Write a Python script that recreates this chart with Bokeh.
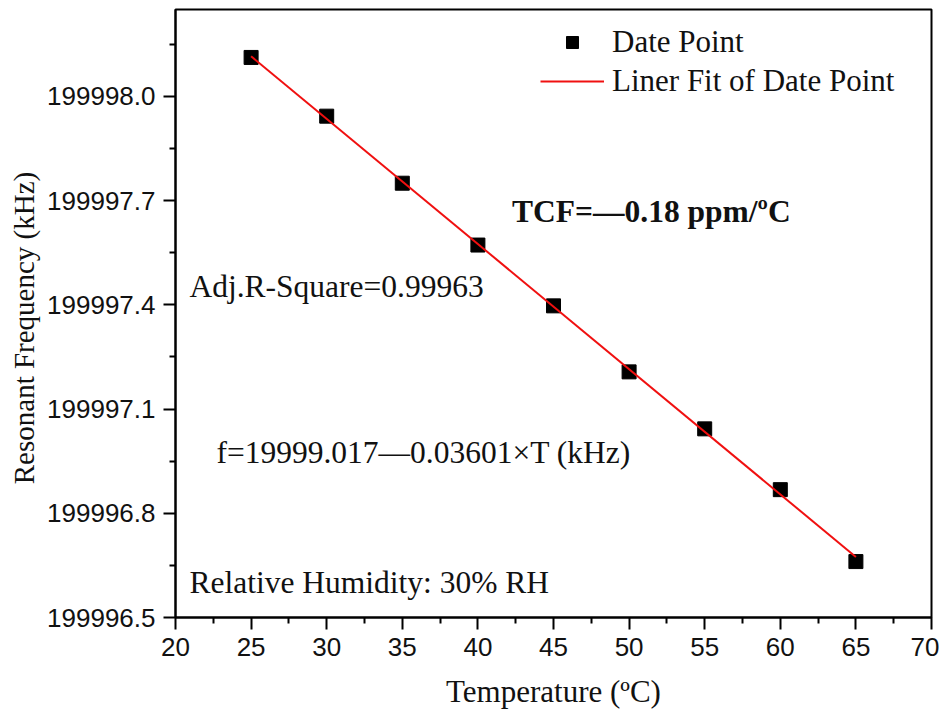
import numpy as np
from bokeh.plotting import figure
from bokeh.models import (Range1d, FixedTicker, PrintfTickFormatter, Legend, LegendItem, Label)
from bokeh.embed import file_html
from bokeh.resources import INLINE

# ---- data ----
temperature = [25, 30, 35, 40, 45, 50, 55, 60, 65]
frequency = [199998.112, 199997.943, 199997.750, 199997.572, 199997.397,
             199997.207, 199997.043, 199996.868, 199996.661]

x_ticks = [20, 25, 30, 35, 40, 45, 50, 55, 60, 65, 70]
x_minor = [22.5, 27.5, 32.5, 37.5, 42.5, 47.5, 52.5, 57.5, 62.5, 67.5]
y_ticks = [199996.5, 199996.8, 199997.1, 199997.4, 199997.7, 199998.0]
y_minor = [199996.65, 199996.95, 199997.25, 199997.55, 199997.85, 199998.15]

legend_labels = ["Date Point", "Liner Fit of Date Point"]
txt_r2 = "Adj.R-Square=0.99963"
txt_eq = "f=19999.017\u20140.03601\u00d7T (kHz)"
txt_rh = "Relative Humidity: 30% RH"
txt_tcf = "TCF=\u20140.18 ppm/\u00baC"

# linear fit
coef = np.polyfit(temperature, frequency, 1)
fit_x = [temperature[0], temperature[-1]]
fit_y = [float(np.polyval(coef, v)) for v in fit_x]

SERIF = "Liberation Serif"
SANS = "Liberation Sans"

p = figure(frame_width=756, frame_height=608, output_backend="svg", toolbar_location=None,
           x_range=Range1d(20, 70), y_range=Range1d(199996.5, 199998.25),
           min_border_left=175, min_border_top=9, min_border_right=8, min_border_bottom=90)
p.xgrid.visible = False
p.ygrid.visible = False
p.outline_line_color = "black"
p.outline_line_width = 2
p.background_fill_color = "white"
p.border_fill_color = "white"

sc = p.scatter(temperature, frequency, marker="square", size=14, color="black")
ln = p.line(fit_x, fit_y, line_color="#f01010", line_width=2)

# axes
p.xaxis.ticker = FixedTicker(ticks=x_ticks, minor_ticks=x_minor)
p.yaxis.ticker = FixedTicker(ticks=y_ticks, minor_ticks=y_minor)
p.yaxis.formatter = PrintfTickFormatter(format="%.1f")
for ax in (p.xaxis, p.yaxis):
    ax.axis_line_width = 2
    ax.axis_line_color = "black"
    ax.major_tick_line_width = 2
    ax.minor_tick_line_width = 2
    ax.major_tick_in = 0
    ax.major_tick_out = 12
    ax.minor_tick_in = 0
    ax.minor_tick_out = 6
    ax.major_label_text_font = SANS
    ax.major_label_text_font_size = "26px"
    ax.major_label_text_color = "#111111"
    ax.axis_label_text_font = SERIF
    ax.axis_label_text_font_style = "normal"
    ax.axis_label_text_color = "#111111"
p.yaxis.axis_label_text_font_size = "29px"
p.xaxis.axis_label_text_font_size = "31px"
p.xaxis.axis_label = "Temperature (\u00baC)"
p.yaxis.axis_label = "Resonant Frequency (kHz)\u00a0\u00a0\u00a0\u00a0"
p.xaxis.major_label_standoff = 8
p.yaxis.major_label_standoff = 8
p.xaxis.axis_label_standoff = 15
p.yaxis.axis_label_standoff = 4

legend = Legend(items=[LegendItem(label=legend_labels[0], renderers=[sc]),
                       LegendItem(label=legend_labels[1], renderers=[ln])],
                location=(365, 518), glyph_width=64, glyph_height=30, spacing=3,
                padding=0, margin=0, label_standoff=8,
                label_text_font=SERIF, label_text_font_size="31px",
                label_text_color="#111111",
                border_line_color=None, background_fill_alpha=0)
p.add_layout(legend)

def add_label(x, y, text, size="31.5px", style="normal"):
    p.add_layout(Label(x=x, y=y, text=text, text_font=SERIF, text_font_size=size,
                       text_font_style=style, text_color="#111111",
                       text_baseline="middle", text_align="left"))

add_label(20.92, 199997.452, txt_r2)
add_label(22.71, 199996.975, txt_eq)
add_label(20.92, 199996.601, txt_rh)
add_label(42.26, 199997.670, txt_tcf, style="bold")

open("out.html", "w").write(file_html(p, INLINE))
